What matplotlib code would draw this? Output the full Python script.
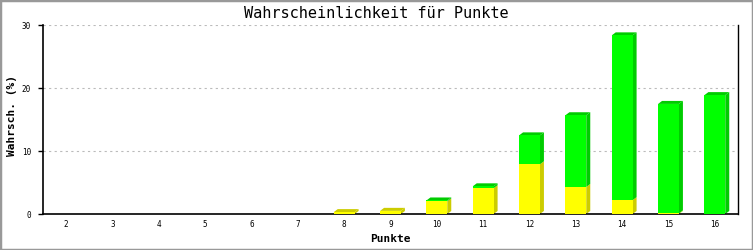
import numpy as np
import matplotlib
matplotlib.use("Agg")
import matplotlib.pyplot as plt
import matplotlib.transforms as mtransforms
from matplotlib.patches import Rectangle, Polygon

punkte = [2, 3, 4, 5, 6, 7, 8, 9, 10, 11, 12, 13, 14, 15, 16]
gelb = [0, 0, 0, 0, 0, 0, 0.3, 0.5, 2.0, 4.1, 7.9, 4.3, 2.2, 0.1, 0]
gruen = [0, 0, 0, 0, 0, 0, 0, 0, 0.15, 0.3, 4.6, 11.4, 26.2, 17.4, 18.9]
yticks = [0, 10, 20, 30]

W, H = 753, 250
fig = plt.figure(figsize=(W / 100, H / 100), dpi=100)
ax = fig.add_axes([43 / W, 36 / H, 695 / W, 188.7 / H])

mono = "DejaVu Sans Mono"
x = np.arange(len(punkte))
bw = 0.45
dx, dy = 4, 3  # depth in pixels

ax.set_xlim(-0.5, len(punkte) - 0.5)
ax.set_ylim(0, 30)

ident = mtransforms.IdentityTransform()


def face3d(x0, x1, y0, y1, side, top, draw_top):
    # side and top faces in pixel space, from the data corners
    (px0, py0), (px1, py1) = ax.transData.transform([(x0, y0), (x1, y1)])
    ax.add_patch(Polygon([(px1, py0), (px1 + dx, py0 + dy), (px1 + dx, py1 + dy), (px1, py1)],
                         closed=True, facecolor=side, lw=0, transform=ident, zorder=2))
    if draw_top:
        ax.add_patch(Polygon([(px0, py1), (px0 + dx, py1 + dy), (px1 + dx, py1 + dy), (px1, py1)],
                             closed=True, facecolor=top, lw=0, transform=ident, zorder=2))


for xi, g, gr in zip(x, gelb, gruen):
    x0, x1 = xi - bw / 2, xi + bw / 2
    if g > 0:
        face3d(x0, x1, 0, g, "#cccc00", "#cccc00", gr == 0)
    if gr > 0:
        face3d(x0, x1, g, g + gr, "#00cc00", "#00cc00", True)

ax.bar(x, gelb, bw, color="#ffff00", lw=0, zorder=3)
ax.bar(x, gruen, bw, bottom=gelb, color="#00ff00", lw=0, zorder=3)

ax.set_xticks(x)
ax.set_xticklabels([str(p) for p in punkte], fontsize=5.5, family=mono)
ax.tick_params(axis="x", length=0, pad=4)
ax.set_yticks(yticks)
ax.set_yticklabels([str(t) for t in yticks], fontsize=5.5, family=mono)
ax.tick_params(axis="y", length=3.6, width=1, pad=5)
for t in yticks[1:]:
    ax.axhline(t, color="#bbbbbb", lw=0.8, ls=(0, (2, 3)), zorder=1)

ax.spines["top"].set_visible(False)
ax.spines["left"].set_linewidth(1.2)
ax.spines["bottom"].set_linewidth(1.2)
ax.spines["right"].set_linewidth(1.0)

fig.text(376 / W, 1 - 13 / H, "Wahrscheinlichkeit für Punkte", ha="center",
         va="center", fontsize=11, family=mono)
fig.text(390 / W, 1 - 239 / H, "Punkte", ha="center", va="center",
         fontsize=8, family=mono, fontweight="bold")
fig.text(12 / W, 1 - 116 / H, "Wahrsch. (%)", ha="center", va="center",
         rotation=90, fontsize=8, family=mono, fontweight="bold")

fig.patches.append(Rectangle((0, 0), 1, 1, transform=fig.transFigure,
                             fill=False, edgecolor="#999999", lw=2.5))

fig.savefig("out.png", dpi=100)
